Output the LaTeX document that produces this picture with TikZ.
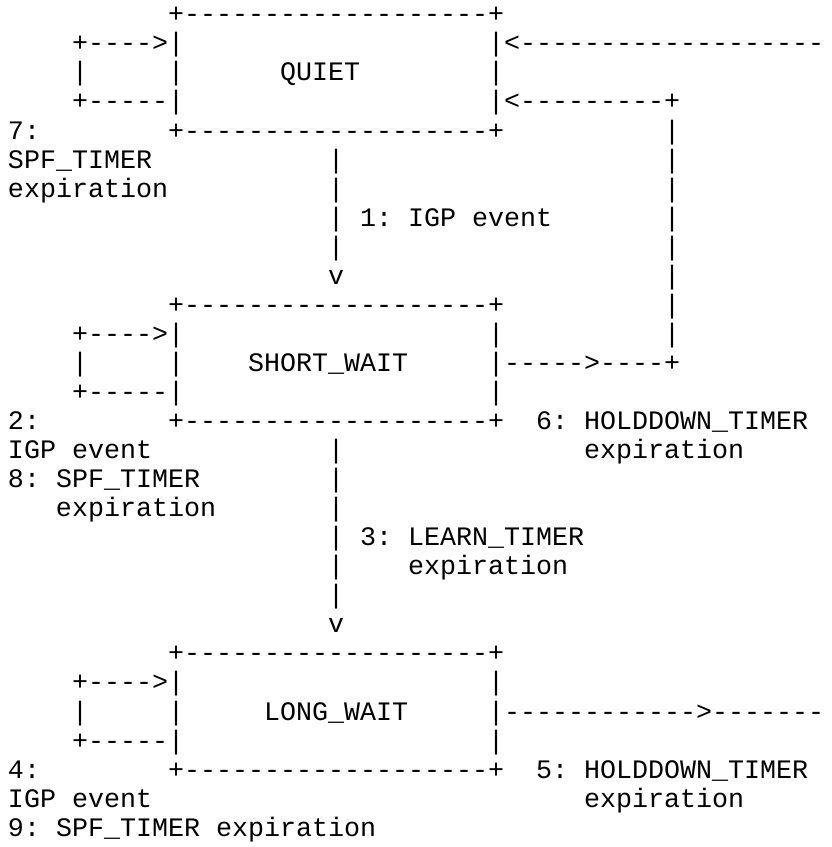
\documentclass[tikz,border=0pt]{standalone}
\usepackage{fontspec}
\setmonofont{Liberation Mono}
\tikzset{
  txt/.style={anchor=base west, inner sep=0pt, outer sep=0pt,
    font=\ttfamily\fontsize{26.67pt}{29pt}\selectfont, text=black}
}
% #1 name, #2 row, #3 column, #4 text
\newcommand{\seg}[4]{\node[txt] (#1) at ({8pt+16pt*#3}, {-22.8pt-29.05pt*#2}) {#4};}
\begin{document}
\begin{tikzpicture}
\fill[white] (0,0) rectangle (831pt,-847pt);
\useasboundingbox (0,0) rectangle (831pt,-847pt);
\clip (0,0) rectangle (831pt,-847pt);
% QUIET state
\seg{q0}{0}{10}{+-------------------+}
\seg{q1a}{1}{4}{+---->|}
\seg{q1b}{1}{30}{|<-------------------}
\seg{q2a}{2}{4}{|}
\seg{q2b}{2}{10}{|}
\seg{q2c}{2}{17}{QUIET}
\seg{q2d}{2}{30}{|}
\seg{q3a}{3}{4}{+-----|}
\seg{q3b}{3}{30}{|<---------+}
\seg{q4a}{4}{0}{7:}
\seg{q4b}{4}{10}{+-------------------+}
\seg{q4c}{4}{41}{|}
\seg{r5a}{5}{0}{SPF\_TIMER}
\seg{r5b}{5}{20}{|}
\seg{r5c}{5}{41}{|}
\seg{r6a}{6}{0}{expiration}
\seg{r6b}{6}{20}{|}
\seg{r6c}{6}{41}{|}
\seg{r7a}{7}{20}{|}
\seg{r7b}{7}{22}{1: IGP event}
\seg{r7c}{7}{41}{|}
\seg{r8a}{8}{20}{|}
\seg{r8c}{8}{41}{|}
\seg{r9a}{9}{20}{v}
\seg{r9c}{9}{41}{|}
% SHORT_WAIT state
\seg{s0}{10}{10}{+-------------------+}
\seg{s0c}{10}{41}{|}
\seg{s1a}{11}{4}{+---->|}
\seg{s1b}{11}{30}{|}
\seg{s1c}{11}{41}{|}
\seg{s2a}{12}{4}{|}
\seg{s2b}{12}{10}{|}
\seg{s2c}{12}{15}{SHORT\_WAIT}
\seg{s2d}{12}{30}{|----->----+}
\seg{s3a}{13}{4}{+-----|}
\seg{s3b}{13}{30}{|}
\seg{s4a}{14}{0}{2:}
\seg{s4b}{14}{10}{+-------------------+}
\seg{s4c}{14}{33}{6: HOLDDOWN\_TIMER}
\seg{r15a}{15}{0}{IGP event}
\seg{r15b}{15}{20}{|}
\seg{r15c}{15}{36}{expiration}
\seg{r16a}{16}{0}{8: SPF\_TIMER}
\seg{r16b}{16}{20}{|}
\seg{r17a}{17}{3}{expiration}
\seg{r17b}{17}{20}{|}
\seg{r18a}{18}{20}{|}
\seg{r18b}{18}{22}{3: LEARN\_TIMER}
\seg{r19a}{19}{20}{|}
\seg{r19b}{19}{25}{expiration}
\seg{r20a}{20}{20}{|}
\seg{r21a}{21}{20}{v}
% LONG_WAIT state
\seg{l0}{22}{10}{+-------------------+}
\seg{l1a}{23}{4}{+---->|}
\seg{l1b}{23}{30}{|}
\seg{l2a}{24}{4}{|}
\seg{l2b}{24}{10}{|}
\seg{l2c}{24}{16}{LONG\_WAIT}
\seg{l2d}{24}{30}{|------------>-------}
\seg{l3a}{25}{4}{+-----|}
\seg{l3b}{25}{30}{|}
\seg{l4a}{26}{0}{4:}
\seg{l4b}{26}{10}{+-------------------+}
\seg{l4c}{26}{33}{5: HOLDDOWN\_TIMER}
\seg{r27a}{27}{0}{IGP event}
\seg{r27b}{27}{36}{expiration}
\seg{r28a}{28}{0}{9: SPF\_TIMER expiration}
\end{tikzpicture}
\end{document}
